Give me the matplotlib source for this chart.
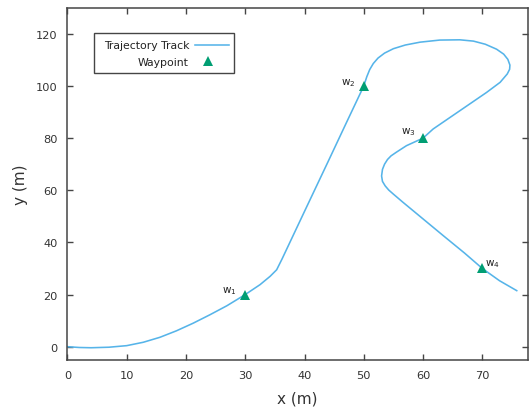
import matplotlib
matplotlib.use("Agg")
import matplotlib.pyplot as plt
from matplotlib.patches import Rectangle

plt.rcParams['font.family'] = ['DejaVu Sans']

# Vehicle trajectory (x, y in metres)
track_x = [0, 2, 4, 7, 10, 12.8, 15.6, 18.4, 21.2, 24.0, 26.9, 30, 32.5, 34.2, 35.3,
           36.2, 40, 44, 47, 50, 50.5, 51.0, 51.6, 52.4, 53.5, 55.0, 57.0, 59.5,
           62.8, 66.2, 68.5, 70.5, 72.4, 73.6, 74.3, 74.65, 74.6, 74.2, 73.6, 73.0,
           70.7, 66.2, 61.7, 60, 57.2, 55.5, 54.6, 54.0, 53.5, 53.15, 53.0, 53.15,
           53.6, 54.2, 55.0, 56.6, 60, 63.4, 67.0, 70, 72.9, 75.8]
track_y = [0, -0.3, -0.4, -0.2, 0.4, 1.7, 3.6, 6.1, 9.0, 12.2, 15.7, 20, 23.8, 27, 29.5,
           33.6, 51.9, 71.1, 85.6, 100, 103.5, 106.3, 108.6, 110.7, 112.6, 114.3, 115.7,
           116.8, 117.6, 117.7, 117.2, 116.0, 114.1, 112.2, 110.2, 108.0, 106.4, 104.6,
           103.0, 101.4, 97.5, 90.5, 83.5, 80, 77.1, 74.6, 73.2, 71.8, 70.0, 68.0,
           65.5, 63.4, 61.7, 60.1, 58.5, 55.4, 49, 42.6, 35.9, 30, 25.3, 21.5]

# Waypoints
wp_x = [30, 50, 60, 70]
wp_y = [20, 100, 80, 30]
wp_names = ['w$_{1}$', 'w$_{2}$', 'w$_{3}$', 'w$_{4}$']

x_ticks = [0, 10, 20, 30, 40, 50, 60, 70]
y_ticks = [0, 20, 40, 60, 80, 100, 120]

line_color = '#56b4e9'
marker_color = '#009e73'
frame_color = '#454545'
text_color = '#333333'

fig = plt.figure(figsize=(5.30, 4.14), dpi=100)
ax = fig.add_axes([67.4 / 530, 53 / 414, 460.6 / 530, 352 / 414])

ax.plot(track_x, track_y, color=line_color, lw=1.15, zorder=2,
        solid_joinstyle='round')
ax.plot(wp_x, wp_y, linestyle='none', marker='^', ms=7, color=marker_color,
        markeredgewidth=0, zorder=3)

# Waypoint labels: offsets in points relative to each marker
offsets = [(-6, 3), (-6, 3), (-5, 5), (2, 4)]
aligns = ['right', 'right', 'right', 'left']
for x, y, name, off, ha in zip(wp_x, wp_y, wp_names, offsets, aligns):
    ax.annotate(name, (x, y), xytext=off, textcoords='offset points',
                ha=ha, va='center', fontsize=7.5, color='#222222')

ax.set_xlim(0, 77.7)
ax.set_ylim(-5.1, 129.9)
ax.set_xticks(x_ticks)
ax.set_yticks(y_ticks)
ax.tick_params(direction='in', length=4, width=1, color=frame_color,
               top=True, right=True, labelsize=8.2, labelcolor=text_color, pad=7)
for sp in ax.spines.values():
    sp.set_color(frame_color)
    sp.set_linewidth(1.1)

ax.set_xlabel('x (m)', fontsize=11, color=text_color, labelpad=8)
ax.set_ylabel('y (m)', fontsize=11, color=text_color, labelpad=6)

# Legend box with right-aligned entries followed by their samples
tr = ax.transAxes
ax.add_patch(Rectangle((0.0578, 0.815), 0.3039, 0.114, transform=tr, fill=False,
                       edgecolor=frame_color, lw=1.0, clip_on=False, zorder=4))
ax.text(0.266, 0.894, 'Trajectory Track', transform=tr, ha='right', va='center',
        fontsize=7.8, color='#222222')
ax.plot([0.277, 0.351], [0.894, 0.894], transform=tr, color=line_color, lw=1.15,
        clip_on=False)
ax.text(0.262, 0.848, 'Waypoint', transform=tr, ha='right', va='center',
        fontsize=7.8, color='#222222')
ax.plot([0.305], [0.849], transform=tr, linestyle='none', marker='^', ms=7,
        color=marker_color, markeredgewidth=0, clip_on=False)

fig.savefig('out.png', dpi=100)
